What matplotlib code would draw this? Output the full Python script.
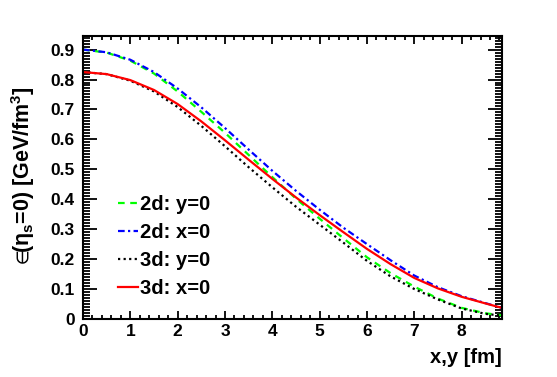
import matplotlib
matplotlib.use("Agg")
import matplotlib.pyplot as plt
from matplotlib.ticker import MultipleLocator

plt.rcParams['font.family'] = ['Liberation Sans', 'DejaVu Sans']
plt.rcParams['mathtext.fontset'] = 'dejavusans'
plt.rcParams['mathtext.default'] = 'regular'

# values
xpos = [0, 0.5, 1, 1.5, 2, 2.5, 3, 3.5, 4, 4.5, 5, 5.5, 6, 6.5, 7, 7.5, 8, 8.5, 8.85]
e2d_y0 = [0.900, 0.890, 0.863, 0.820, 0.760, 0.692, 0.622, 0.548, 0.474, 0.402,
          0.335, 0.270, 0.206, 0.153, 0.108, 0.068, 0.037, 0.019, 0.012]
e2d_x0 = [0.900, 0.891, 0.866, 0.825, 0.770, 0.707, 0.638, 0.566, 0.495, 0.428,
          0.365, 0.305, 0.250, 0.196, 0.145, 0.106, 0.076, 0.053, 0.037]
e3d_y0 = [0.825, 0.818, 0.796, 0.760, 0.708, 0.645, 0.577, 0.507, 0.440, 0.375,
          0.315, 0.255, 0.194, 0.142, 0.100, 0.065, 0.035, 0.017, 0.011]
e3d_x0 = [0.825, 0.818, 0.798, 0.765, 0.718, 0.660, 0.597, 0.532, 0.468, 0.406,
          0.347, 0.290, 0.234, 0.183, 0.137, 0.102, 0.074, 0.052, 0.037]

fig = plt.figure(figsize=(5.57, 3.77), dpi=100)
ax = fig.add_axes([0.149, 0.154, 0.752, 0.751])

ax.plot(xpos, e2d_y0, color="#00ff00", lw=1.6, ls=(0, (3, 2.5)), label="2d: y=0")
ax.plot(xpos, e2d_x0, color="#0000ff", lw=1.6, ls=(0, (3, 1.5, 1, 1.5)), label="2d: x=0")
ax.plot(xpos, e3d_y0, color="black", lw=1.6, ls=(0, (1, 1.5)), label="3d: y=0")
ax.plot(xpos, e3d_x0, color="red", lw=1.6, ls="-", label="3d: x=0")

ax.set_xlim(0, 8.85)
ax.set_ylim(0, 0.946)
ax.xaxis.set_major_locator(MultipleLocator(1))
ax.xaxis.set_minor_locator(MultipleLocator(0.2))
ax.yaxis.set_minor_locator(MultipleLocator(0.01))
ax.set_yticks([0, 0.1, 0.2, 0.3, 0.4, 0.5, 0.6, 0.7, 0.8, 0.9])
ax.set_yticklabels(["0", "0.1", "0.2", "0.3", "0.4", "0.5", "0.6", "0.7", "0.8", "0.9"])

for s in ax.spines.values():
    s.set_linewidth(1.5)
ax.tick_params(which="both", direction="in", top=True, right=True, width=1.3)
ax.tick_params(axis="y", which="major", length=10, pad=6)
ax.tick_params(axis="y", which="minor", length=5)
ax.tick_params(axis="x", which="major", length=6, pad=4)
ax.tick_params(axis="x", which="minor", length=3)
for lab in ax.get_xticklabels() + ax.get_yticklabels():
    lab.set_fontsize(12.5)
    lab.set_fontweight("bold")

ax.set_xlabel("x,y [fm]", fontsize=14.5, fontweight="bold", loc="right", labelpad=6)
ax.set_ylabel(r"$\in\!\!$($\eta_{s}$=0) [GeV/fm$^{3}$]",
              fontsize=15.5, fontweight="bold", labelpad=10)

leg = ax.legend(loc="lower left", bbox_to_anchor=(0.065, 0.045), frameon=False,
                prop={"size": 14.5, "weight": "bold"}, handlelength=1.0,
                handletextpad=0.1, labelspacing=0.45, borderaxespad=0)

fig.savefig("out.png", dpi=100)
